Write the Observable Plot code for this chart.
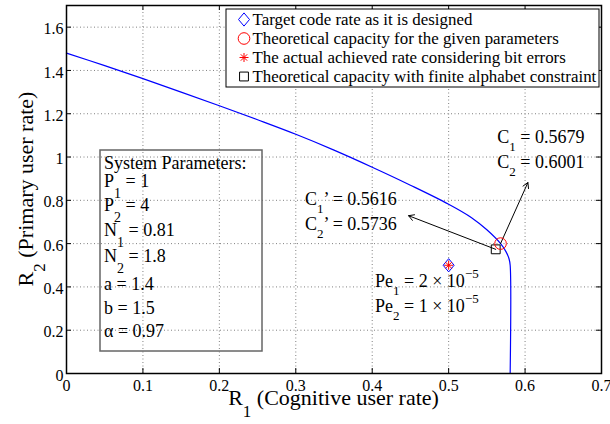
<!DOCTYPE html>
<html><head><meta charset="utf-8">
<script src="https://cdn.jsdelivr.net/npm/d3@7"></script>
<script src="https://cdn.jsdelivr.net/npm/@observablehq/plot@0.6"></script>
<style>
html,body{margin:0;padding:0;background:#fff;}
#chart{width:610px;height:424px;}
#chart svg, #chart svg text, #chart svg tspan{font-family:"Liberation Serif","Times New Roman",Times,serif !important;}
text{white-space:pre;}
</style></head><body><div id="chart"></div>
<script>
// ---- data ----
const curveR1 = [0, 0.05, 0.1, 0.15, 0.2, 0.25, 0.3, 0.35, 0.4, 0.45, 0.5, 0.53, 0.55, 0.568, 0.575, 0.579, 0.5805, 0.5805];
const curveR2 = [1.48, 1.422, 1.362, 1.300, 1.237, 1.172, 1.105, 1.032, 0.953, 0.870, 0.782, 0.72, 0.664, 0.600, 0.563, 0.53, 0.50, 0];
const pointKind = ["finite", "capacity", "designed", "achieved"];
const pointR1 = [0.5616, 0.5679, 0.5, 0.5];
const pointR2 = [0.5736, 0.6001, 0.5, 0.5];
const legendKinds = ["designed", "capacity", "achieved", "finite"];
const legendLabels = [
  "Target code rate as it is designed",
  "Theoretical capacity for the given parameters",
  "The actual achieved rate considering bit errors",
  "Theoretical capacity with finite alphabet constraint"
];
const xTicks = [0, 0.1, 0.2, 0.3, 0.4, 0.5, 0.6, 0.7];
const xTickLabels = ["0", "0.1", "0.2", "0.3", "0.4", "0.5", "0.6", "0.7"];
const yTicks = [0, 0.2, 0.4, 0.6, 0.8, 1, 1.2, 1.4, 1.6];
const yTickLabels = ["0", "0.2", "0.4", "0.6", "0.8", "1", "1.2", "1.4", "1.6"];
const paramLines = ["System Parameters:", "P_1 = 1", "P_2 = 4", "N_1 = 0.81", "N_2 = 1.8", "a = 1.4", "b = 1.5", "α = 0.97"];
const arrowFromR1 = [0.5679, 0.5616];
const arrowFromR2 = [0.6001, 0.5736];
const arrowToR1 = [0.6037, 0.4476];
const arrowToR2 = [0.882, 0.729];
const noteR1 = [0.5643, 0.3127, 0.4044];
const noteR2 = [1.062, 0.776, 0.397];
const noteLines = [
  ["C_1 = 0.5679", "C_2 = 0.6001"],
  ["C_1’ = 0.5616", "C_2’ = 0.5736"],
  ["Pe_1 = 2 × 10^{−5}", "Pe_2 = 1 × 10^{−5}"]
];
const xLabel = "R_1 (Cognitive user rate)";
const yLabel = "R_2 (Primary user rate)";

// ---- symbols ----
const diamondSym = {draw(ctx, size) {
  const r = Math.sqrt(size / Math.PI), w = r, h = r * 1.2;
  ctx.moveTo(0, -h); ctx.lineTo(w, 0); ctx.lineTo(0, h); ctx.lineTo(-w, 0); ctx.closePath();
}};
const starSym = {draw(ctx, size) {
  const r = Math.sqrt(size / Math.PI), d = r * 0.7071;
  ctx.moveTo(-r, 0); ctx.lineTo(r, 0); ctx.moveTo(0, -r); ctx.lineTo(0, r);
  ctx.moveTo(-d, -d); ctx.lineTo(d, d); ctx.moveTo(-d, d); ctx.lineTo(d, -d);
}};
const kindStyle = {
  designed: {symbol: diamondSym, stroke: "#0000ff", r: 5.5},
  capacity: {symbol: d3.symbolCircle, stroke: "#ff0000", r: 5.8},
  achieved: {symbol: starSym, stroke: "#ff0000", r: 4.5},
  finite:   {symbol: d3.symbolSquare, stroke: "#000000", r: 5}
};

const W = 610, H = 424, mL = 66, mR = 9, mT = 5, mB = 51;
const xMax = 0.7, yMax = 1.7;
const tkY = 5 * yMax / (H - mT - mB);
const tkX = 5 * xMax / (W - mL - mR);
const FONT = '"Liberation Serif", "Times New Roman", Times, serif';

const curve = curveR1.map((x, i) => ({x, y: curveR2[i]}));
const points = pointR1.map((x, i) => ({x, y: pointR2[i], kind: pointKind[i]}));
const arrows = arrowFromR1.map((x, i) => ({x1: x, y1: arrowFromR2[i], x2: arrowToR1[i], y2: arrowToR2[i]}));
const grid = {stroke: "#808080", strokeOpacity: 1, strokeDasharray: "1,2.5", strokeWidth: 1};

const chart = Plot.plot({
  width: W, height: H, marginLeft: mL, marginRight: mR, marginTop: mT, marginBottom: mB,
  style: {fontFamily: FONT, fontSize: "16px", background: "#fff", color: "#000"},
  x: {domain: [0, xMax]},
  y: {domain: [0, yMax]},
  marks: [
    Plot.gridX(xTicks, grid),
    Plot.gridY(yTicks, grid),
    Plot.line(curve, {x: "x", y: "y", stroke: "#0000ff", strokeWidth: 1.2, curve: "catmull-rom"}),
    Plot.axisX(xTicks, {tickSize: 0, tickPadding: 6, tickFormat: d => xTickLabels[xTicks.indexOf(d)], label: null}),
    Plot.axisY(yTicks, {tickSize: 0, tickPadding: 3, dy: 2, tickFormat: d => yTickLabels[yTicks.indexOf(d)], label: null}),
    Plot.ruleX(xTicks, {x: d => d, y1: 0, y2: tkY, stroke: "#000"}),
    Plot.ruleX(xTicks, {x: d => d, y1: yMax - tkY, y2: yMax, stroke: "#000"}),
    Plot.ruleY(yTicks, {y: d => d, x1: 0, x2: tkX, stroke: "#000"}),
    Plot.ruleY(yTicks, {y: d => d, x1: xMax - tkX, x2: xMax, stroke: "#000"}),
    Plot.frame({stroke: "#000", strokeWidth: 1.5}),
    Plot.arrow(arrows, {x1: "x1", y1: "y1", x2: "x2", y2: "y2", stroke: "#000", strokeWidth: 1, headLength: 9}),
    ...["finite", "capacity", "designed", "achieved"].map(k =>
      Plot.dot(points.filter(d => d.kind === k), {x: "x", y: "y", symbol: kindStyle[k].symbol, stroke: kindStyle[k].stroke, r: kindStyle[k].r, strokeWidth: 1, fill: "none"}))
  ]
});
document.getElementById("chart").appendChild(chart);

const sx = chart.scale("x"), sy = chart.scale("y");
const svg = d3.select(chart);

function parseRich(s) {
  const out = []; let i = 0, buf = "";
  while (i < s.length) {
    const c = s[i];
    if (c === "_" || c === "^") {
      if (buf) { out.push({t: buf, m: 0}); buf = ""; }
      let t;
      if (s[i + 1] === "{") { const j = s.indexOf("}", i + 2); t = s.slice(i + 2, j); i = j + 1; }
      else { t = s[i + 1]; i += 2; }
      out.push({t, m: c === "_" ? 1 : 2});
    } else { buf += c; i++; }
  }
  if (buf) out.push({t: buf, m: 0});
  return out;
}
function richText(g, s, x, y, o) {
  const t = g.append("text").attr("x", x).attr("y", y)
    .attr("font-family", FONT).attr("font-size", o.size).attr("fill", "#000")
    .attr("text-anchor", o.anchor || "start");
  if (o.transform) t.attr("transform", o.transform);
  let cur = 0;
  parseRich(s).forEach(seg => {
    const target = seg.m === 1 ? o.subShift : seg.m === 2 ? -o.supShift : 0;
    t.append("tspan").attr("dy", target - cur).attr("font-size", seg.m ? o.subSize : o.size).text(seg.t);
    cur = target;
  });
  return t;
}
function symPath(sym, r) { const p = d3.path(); sym.draw(p, Math.PI * r * r); return p.toString(); }

const g = svg.append("g");

// axis labels
const xr = sx.range, yr = sy.range;
richText(g, xLabel, (xr[0] + xr[1]) / 2, 405, {size: 22, subSize: 17, subShift: 12, anchor: "middle"});
richText(g, yLabel, 0, 0, {size: 22, subSize: 17, subShift: 12, anchor: "middle",
  transform: `translate(33,${(yr[0] + yr[1]) / 2}) rotate(-90)`});

// parameter box
g.append("rect").attr("x", 100).attr("y", 150).attr("width", 162).attr("height", 201)
  .attr("fill", "none").attr("stroke", "#666").attr("stroke-width", 1.5);
const paramBase = [169, 187, 211, 236, 262, 290, 314, 337];
paramLines.forEach((s, i) => richText(g, s, 104, paramBase[i], {size: 18, subSize: 14, subShift: 11}));

// annotations
noteLines.forEach((lines, i) => {
  lines.forEach((s, j) => richText(g, s, sx.apply(noteR1[i]), sy.apply(noteR2[i]) + j * 25,
    {size: 18, subSize: 13, subShift: 8, supShift: 9}));
});

// legend
const lg = g.append("g");
lg.append("rect").attr("x", 226).attr("y", 9).attr("width", 373).attr("height", 78)
  .attr("fill", "#fff").attr("stroke", "#000").attr("stroke-width", 1);
legendKinds.forEach((k, i) => {
  const base = 25 + i * 19;
  const st = kindStyle[k];
  lg.append("path").attr("d", symPath(st.symbol, st.r)).attr("transform", `translate(244,${base - 5.5})`)
    .attr("fill", "none").attr("stroke", st.stroke).attr("stroke-width", 1);
  lg.append("text").attr("x", 252.5).attr("y", base).attr("text-anchor", "start")
    .attr("font-family", FONT).attr("font-size", 16.9)
    .attr("fill", "#000").text(legendLabels[i]);
});
</script></body></html>
